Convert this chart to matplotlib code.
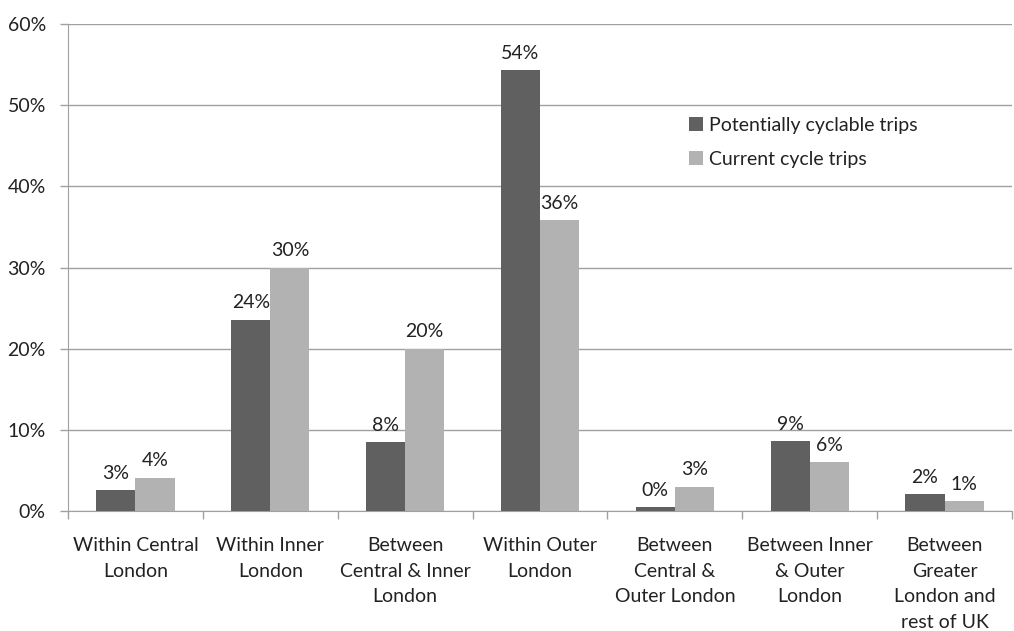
import numpy as np
import matplotlib.pyplot as plt
from matplotlib.ticker import FuncFormatter, MultipleLocator

categories = [
    "Within Central\nLondon",
    "Within Inner\nLondon",
    "Between\nCentral & Inner\nLondon",
    "Within Outer\nLondon",
    "Between\nCentral &\nOuter London",
    "Between Inner\n& Outer\nLondon",
    "Between\nGreater\nLondon and\nrest of UK",
]
potential = [2.6, 23.6, 8.5, 54.3, 0.5, 8.6, 2.1]
current = [4.1, 30.0, 20.0, 35.8, 3.0, 6.0, 1.2]
potential_labels = ["3%", "24%", "8%", "54%", "0%", "9%", "2%"]
current_labels = ["4%", "30%", "20%", "36%", "3%", "6%", "1%"]

plt.rcParams["font.family"] = ["Lato", "DejaVu Sans"]
text_color = "#222222"
grid_color = "#a0a0a0"
fs = 14

fig = plt.figure(figsize=(10.14, 6.31), dpi=100)
ax = fig.add_axes([0.0671, 0.190, 0.9309, 0.772])

x = np.arange(len(categories))
w = 0.29
b1 = ax.bar(x - w / 2, potential, w, color="#606060", label="Potentially cyclable trips", zorder=3)
b2 = ax.bar(x + w / 2, current, w, color="#b2b2b2", label="Current cycle trips", zorder=3)

for bars, labels in ((b1, potential_labels), (b2, current_labels)):
    for bar, lab in zip(bars, labels):
        ax.annotate(lab, (bar.get_x() + bar.get_width() / 2, bar.get_height()),
                    xytext=(0, 6), textcoords="offset points", ha="center", va="bottom",
                    fontsize=fs, color=text_color)

ax.set_xlim(-0.5, len(categories) - 0.5)
ax.set_ylim(0, 60)
ax.yaxis.set_major_locator(MultipleLocator(10))
ax.yaxis.set_major_formatter(FuncFormatter(lambda v, p: f"{v:.0f}%"))
ax.grid(axis="y", color=grid_color, linewidth=1, zorder=0)

ax.set_xticks(x)
ax.set_xticklabels(categories, fontsize=fs, color=text_color, linespacing=1.6)
ax.set_xticks(np.arange(len(categories) + 1) - 0.5, minor=True)
ax.tick_params(axis="x", which="major", length=0, pad=19)
ax.tick_params(axis="x", which="minor", length=6, color=grid_color, width=1)
ax.tick_params(axis="y", length=6, color=grid_color, width=1, labelsize=fs,
               labelcolor=text_color, pad=10)

for s in ("top", "right"):
    ax.spines[s].set_visible(False)
ax.spines["left"].set_color(grid_color)
ax.spines["bottom"].set_color(grid_color)

ax.legend(loc="upper left", bbox_to_anchor=(0.65, 0.825), frameon=False,
          fontsize=fs, handlelength=0.7, handleheight=0.7, handletextpad=0.3,
          labelspacing=0.85, borderaxespad=0, labelcolor=text_color)

fig.savefig("out.png", dpi=100, facecolor="white")
